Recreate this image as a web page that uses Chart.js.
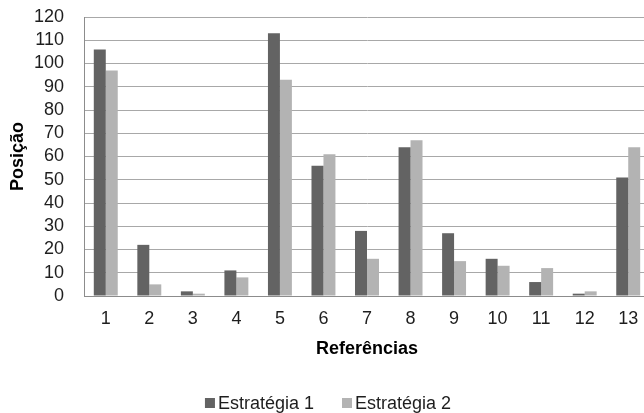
<!DOCTYPE html>
<html>
<head>
<meta charset="utf-8">
<script src="https://cdn.jsdelivr.net/npm/chart.js@4/dist/chart.umd.min.js"></script>
<style>
  html, body { margin: 0; padding: 0; background: #fff; overflow: hidden; }
  #wrap { width: 650px; height: 413px; }
</style>
</head>
<body>
<div id="wrap"><canvas id="c" width="650" height="413"></canvas></div>
<script>
// Posição de cada referência para as duas estratégias
const referencias = ['1', '2', '3', '4', '5', '6', '7', '8', '9', '10', '11', '12', '13'];
const estrategia1 = [106, 22, 2, 11, 113, 56, 28, 64, 27, 16, 6, 1, 51];
const estrategia2 = [97, 5, 1, 8, 93, 61, 16, 67, 15, 13, 12, 2, 64];
const nomesSeries = ['Estratégia 1', 'Estratégia 2'];

const FONT = "'Liberation Sans', Arial, sans-serif";
const TEXT = '#1e1e1e';

// Legenda simples: quadrado colado ao texto, centrada abaixo do gráfico
const legendaInferior = {
  id: 'legendaInferior',
  afterDraw(chart) {
    const ctx = chart.ctx;
    const box = 10, gapTexto = 3, gapItens = 28, cy = 403;
    ctx.save();
    ctx.font = '18px ' + FONT;
    ctx.textBaseline = 'middle';
    const itens = chart.data.datasets.map(ds => ({
      cor: ds.backgroundColor, texto: ds.label, w: ctx.measureText(ds.label).width
    }));
    const total = itens.reduce((s, it) => s + box + gapTexto + it.w, 0) + gapItens * (itens.length - 1);
    let x = 328 - total / 2;
    itens.forEach(it => {
      ctx.fillStyle = it.cor;
      ctx.fillRect(x, cy - box / 2, box, box);
      x += box + gapTexto;
      ctx.fillStyle = TEXT;
      ctx.fillText(it.texto, x, cy + 1);
      x += it.w + gapItens;
    });
    ctx.restore();
  }
};

new Chart(document.getElementById('c'), {
  type: 'bar',
  data: {
    labels: referencias,
    datasets: [
      { label: nomesSeries[0], data: estrategia1, backgroundColor: '#636363',
        categoryPercentage: 0.55, barPercentage: 1.0 },
      { label: nomesSeries[1], data: estrategia2, backgroundColor: '#b3b3b3',
        categoryPercentage: 0.55, barPercentage: 1.0 }
    ]
  },
  plugins: [legendaInferior],
  options: {
    responsive: false,
    animation: false,
    layout: { padding: { top: 17, right: 0, left: 0, bottom: 45 } },
    plugins: {
      tooltip: { enabled: false },
      legend: { display: false }
    },
    scales: {
      x: {
        afterFit(scale) { scale.height = 72; scale.paddingLeft = 0; scale.paddingRight = 0; },
        grid: { display: false, drawTicks: false },
        border: { display: true, color: '#8c8c8c', width: 1 },
        ticks: { font: { family: FONT, size: 18 }, color: TEXT, padding: 12, maxRotation: 0, autoSkip: false },
        title: {
          display: true, text: 'Referências',
          font: { family: FONT, size: 18, weight: 'bold' }, color: '#000',
          padding: { top: 0, bottom: 8 }
        }
      },
      y: {
        afterFit(scale) { scale.width = 84; scale.paddingTop = 0; scale.paddingBottom = 0; },
        min: 0, max: 120,
        ticks: { stepSize: 10, autoSkip: false, font: { family: FONT, size: 18 }, color: TEXT, padding: 20 },
        grid: { color: '#a8a8a8', lineWidth: 1, drawTicks: false },
        border: { display: true, color: '#8c8c8c', width: 1 },
        title: {
          display: true, text: 'Posição',
          font: { family: FONT, size: 18, weight: 'bold' }, color: '#000',
          padding: { top: 7, bottom: 0 }
        }
      }
    }
  }
});
</script>
</body>
</html>
